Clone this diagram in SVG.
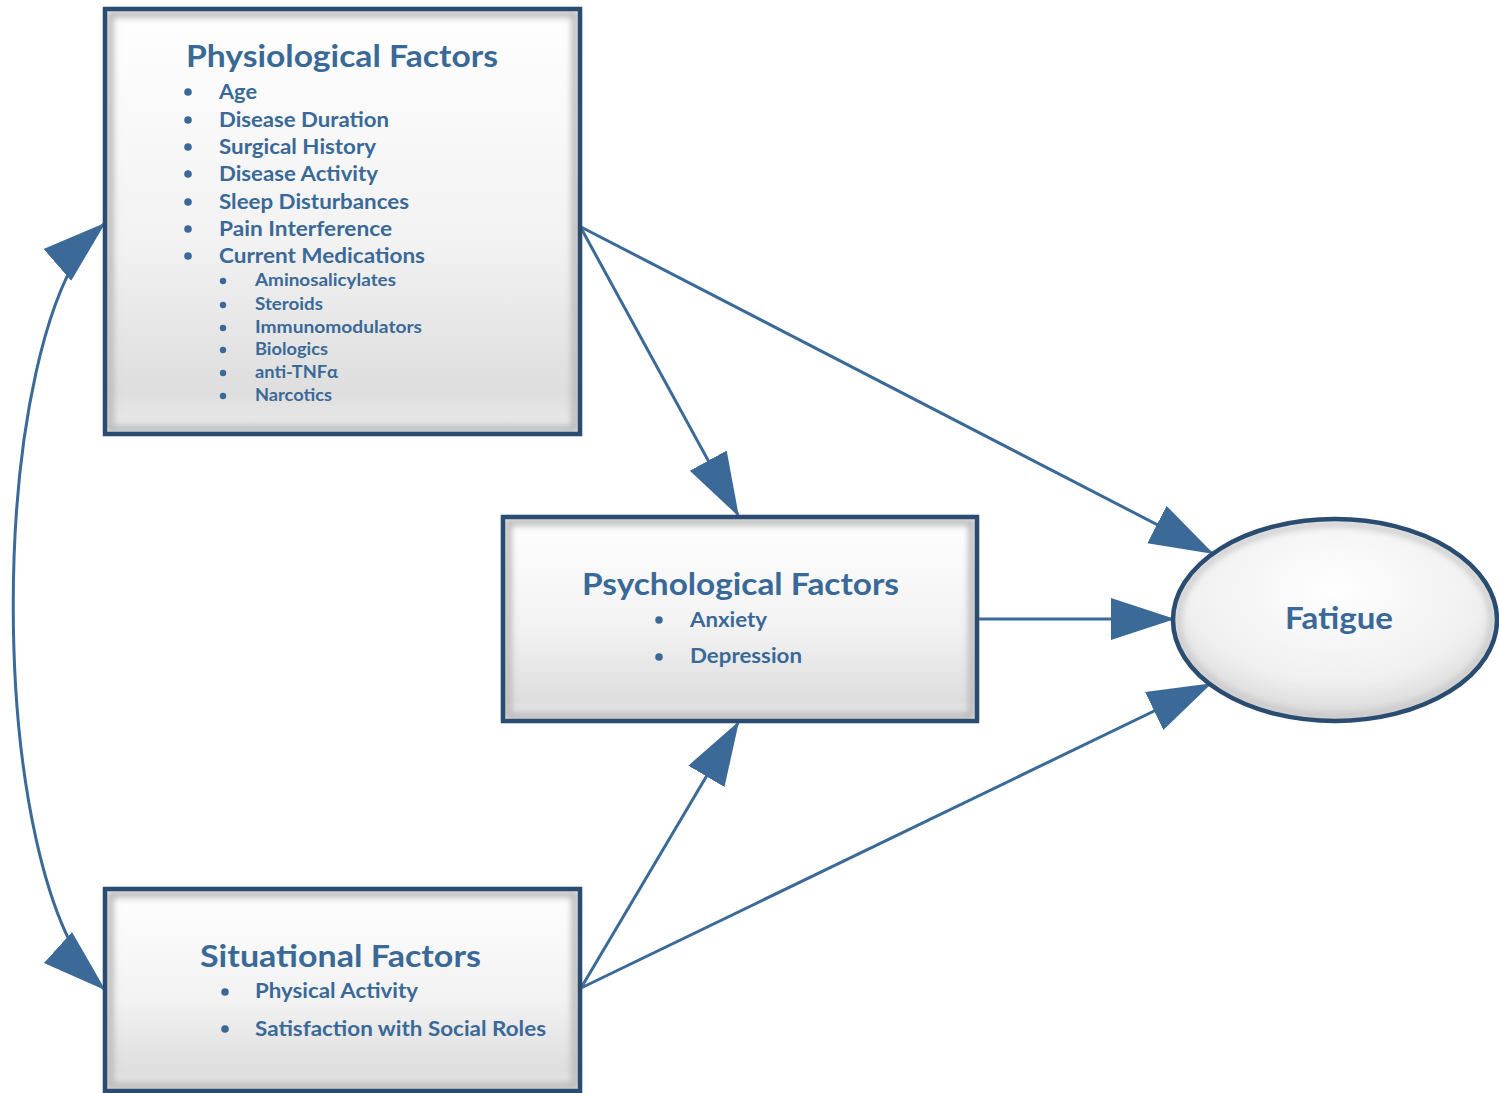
<svg xmlns="http://www.w3.org/2000/svg" width="1499" height="1093" viewBox="0 0 1499 1093">
  <defs>
    <linearGradient id="boxFill" x1="0" y1="0" x2="0" y2="1">
      <stop offset="0" stop-color="#ffffff"/>
      <stop offset="0.55" stop-color="#f2f2f2"/>
      <stop offset="0.9" stop-color="#dedede"/>
      <stop offset="1" stop-color="#ececec"/>
    </linearGradient>
    <radialGradient id="ovalFill" cx="0.5" cy="0.35" r="0.65">
      <stop offset="0" stop-color="#ffffff"/>
      <stop offset="0.7" stop-color="#f0f0f0"/>
      <stop offset="1" stop-color="#d6d6d6"/>
    </radialGradient>
    <filter id="soft" x="-5%" y="-5%" width="110%" height="110%">
      <feGaussianBlur stdDeviation="3"/>
    </filter>
    <marker id="head" markerUnits="userSpaceOnUse" markerWidth="64" markerHeight="46" viewBox="0 0 64 46" refX="62" refY="23" orient="auto-start-reverse">
      <path d="M0,2 L64,23 L0,44 Z" fill="#3b6a98"/>
    </marker>
    <style>
      .frame { fill: url(#boxFill); }
      .edge { fill: none; stroke: #294c70; stroke-width: 4.5; }
      .bevel { fill: none; stroke: #b8b8b8; stroke-width: 7; filter: url(#soft); }
      .title { font-family: Lato, "Open Sans", "Liberation Sans", sans-serif; font-weight: bold; fill: #3a6998; }
      .item { font-family: Lato, "Open Sans", "Liberation Sans", sans-serif; font-weight: bold; fill: #3a6998; }
      .dot { fill: #3a6998; }
      .link { fill: none; stroke: #3b6a98; stroke-width: 3; marker-end: url(#head); }
    </style>
  </defs>

  <rect width="1499" height="1093" fill="#ffffff"/>

  <!-- connectors -->
  <g id="connectors">
    <path class="link" d="M581,227 L1212,553"/>
    <path class="link" d="M581,228 L738,515"/>
    <path class="link" d="M978,619 L1173,619"/>
    <path class="link" d="M581,988 L738,723"/>
    <path class="link" d="M581,988 L1210,684"/>
    <path class="link" d="M104,224 C-17,330 -17,880 104,989" marker-start="url(#head)"/>
  </g>

  <!-- physiological factors -->
  <g id="physiological">
    <rect class="frame" x="105" y="9" width="475" height="425"/>
    <rect class="bevel" x="110" y="14" width="465" height="415"/>
    <rect class="edge" x="105" y="9" width="475" height="425"/>
    <text class="title" x="186" y="67" font-size="30" textLength="312" lengthAdjust="spacingAndGlyphs">Physiological Factors</text>
    <g class="item" font-size="20">
      <circle class="dot" cx="188" cy="92" r="3.8"/>
      <text x="219" y="99" textLength="38" lengthAdjust="spacingAndGlyphs">Age</text>
      <circle class="dot" cx="188" cy="120" r="3.8"/>
      <text x="219" y="127" textLength="170" lengthAdjust="spacingAndGlyphs">Disease Duration</text>
      <circle class="dot" cx="188" cy="147" r="3.8"/>
      <text x="219" y="154" textLength="157" lengthAdjust="spacingAndGlyphs">Surgical History</text>
      <circle class="dot" cx="188" cy="174" r="3.8"/>
      <text x="219" y="181" textLength="159" lengthAdjust="spacingAndGlyphs">Disease Activity</text>
      <circle class="dot" cx="188" cy="202" r="3.8"/>
      <text x="219" y="209" textLength="190" lengthAdjust="spacingAndGlyphs">Sleep Disturbances</text>
      <circle class="dot" cx="188" cy="229" r="3.8"/>
      <text x="219" y="236" textLength="173" lengthAdjust="spacingAndGlyphs">Pain Interference</text>
      <circle class="dot" cx="188" cy="256" r="3.8"/>
      <text x="219" y="263" textLength="206" lengthAdjust="spacingAndGlyphs">Current Medications</text>
    </g>
    <g class="item" font-size="16.5">
      <circle class="dot" cx="223" cy="281" r="3.2"/>
      <text x="255" y="286" textLength="141" lengthAdjust="spacingAndGlyphs">Aminosalicylates</text>
      <circle class="dot" cx="223" cy="305" r="3.2"/>
      <text x="255" y="310" textLength="68" lengthAdjust="spacingAndGlyphs">Steroids</text>
      <circle class="dot" cx="223" cy="328" r="3.2"/>
      <text x="255" y="333" textLength="167" lengthAdjust="spacingAndGlyphs">Immunomodulators</text>
      <circle class="dot" cx="223" cy="350" r="3.2"/>
      <text x="255" y="355" textLength="73" lengthAdjust="spacingAndGlyphs">Biologics</text>
      <circle class="dot" cx="223" cy="373" r="3.2"/>
      <text x="255" y="378" textLength="83" lengthAdjust="spacingAndGlyphs">anti-TNFα</text>
      <circle class="dot" cx="223" cy="396" r="3.2"/>
      <text x="255" y="401" textLength="77" lengthAdjust="spacingAndGlyphs">Narcotics</text>
    </g>
  </g>

  <!-- psychological factors -->
  <g id="psychological">
    <rect class="frame" x="503" y="517" width="474" height="204"/>
    <rect class="bevel" x="508" y="522" width="464" height="194"/>
    <rect class="edge" x="503" y="517" width="474" height="204"/>
    <text class="title" x="582" y="595" font-size="30" textLength="317" lengthAdjust="spacingAndGlyphs">Psychological Factors</text>
    <g class="item" font-size="20">
      <circle class="dot" cx="659" cy="620" r="3.8"/>
      <text x="690" y="627" textLength="77" lengthAdjust="spacingAndGlyphs">Anxiety</text>
      <circle class="dot" cx="659" cy="657" r="3.8"/>
      <text x="690" y="663" textLength="112" lengthAdjust="spacingAndGlyphs">Depression</text>
    </g>
  </g>

  <!-- situational factors -->
  <g id="situational">
    <rect class="frame" x="105" y="889" width="475" height="202"/>
    <rect class="bevel" x="110" y="894" width="465" height="192"/>
    <rect class="edge" x="105" y="889" width="475" height="202"/>
    <text class="title" x="200" y="967" font-size="30" textLength="281" lengthAdjust="spacingAndGlyphs">Situational Factors</text>
    <g class="item" font-size="20">
      <circle class="dot" cx="225" cy="992" r="3.8"/>
      <text x="255" y="998" textLength="163" lengthAdjust="spacingAndGlyphs">Physical Activity</text>
      <circle class="dot" cx="225" cy="1029" r="3.8"/>
      <text x="255" y="1036" textLength="291" lengthAdjust="spacingAndGlyphs">Satisfaction with Social Roles</text>
    </g>
  </g>

  <!-- fatigue outcome -->
  <g id="fatigue">
    <ellipse cx="1335" cy="620" rx="162" ry="101" fill="url(#ovalFill)"/>
    <ellipse cx="1335" cy="620" rx="157" ry="96" fill="none" stroke="#c4c4c4" stroke-width="5" filter="url(#soft)"/>
    <ellipse cx="1335" cy="620" rx="162" ry="101" fill="none" stroke="#294c70" stroke-width="4.5"/>
    <text class="title" x="1285" y="629" font-size="30" textLength="108" lengthAdjust="spacingAndGlyphs">Fatigue</text>
  </g>
</svg>
